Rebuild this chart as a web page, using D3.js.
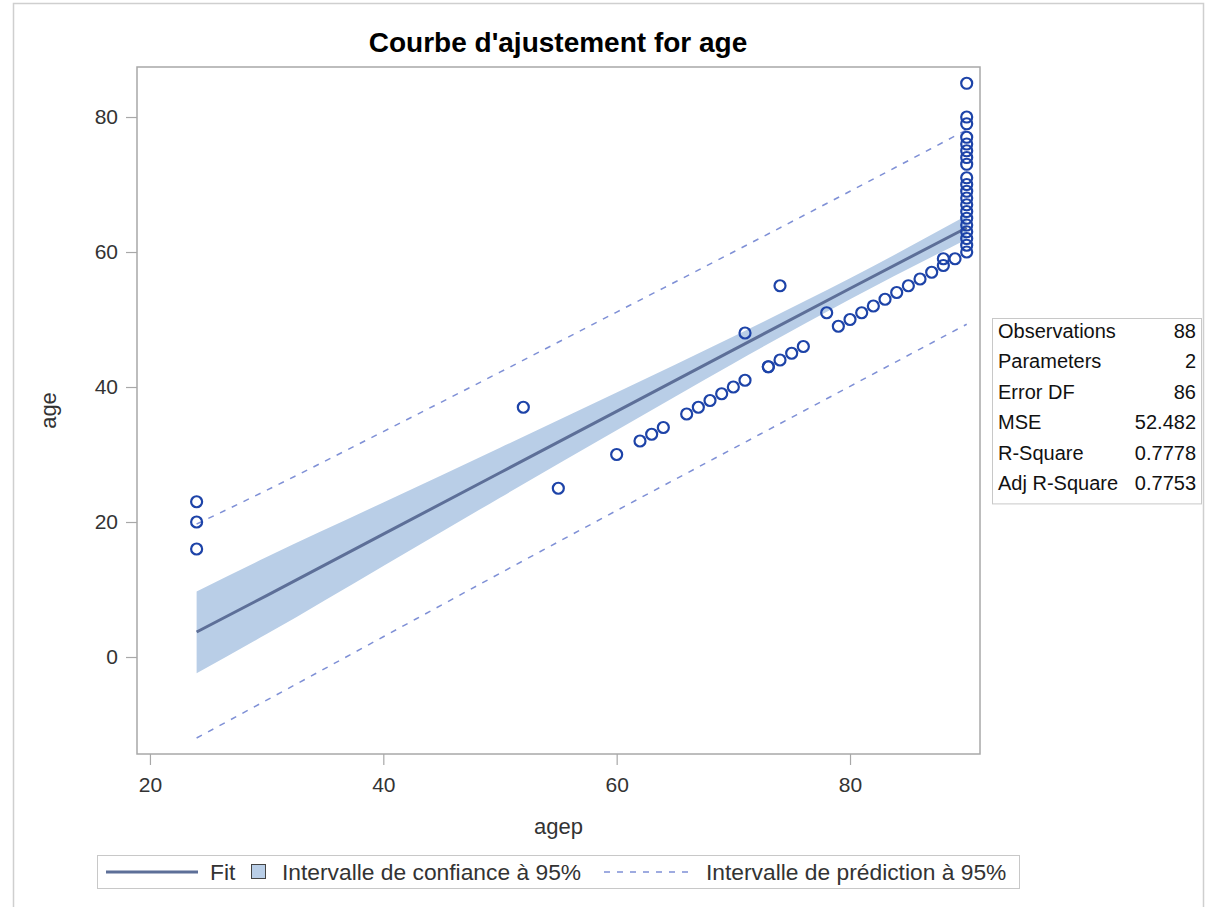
<!DOCTYPE html>
<html>
<head>
<meta charset="utf-8">
<script src="https://cdn.jsdelivr.net/npm/d3@7/dist/d3.min.js"></script>
<style>
  body { margin: 0; background: #fff; }
  svg { display: block; font-family: "Liberation Sans", Arial, sans-serif; }
</style>
</head>
<body>
<svg id="chart" width="1224" height="907"></svg>
<script>
// ---- data ----
const agepValues = [24,24,24,52,55,60,62,63,64,66,67,68,69,70,71,71,73,73,74,74,75,76,78,79,80,81,82,83,84,85,86,87,88,88,89,
                    90,90,90,90,90,90,90,90,90,90,90,90,90,90,90,90,90,90,90,90];
const ageValues  = [16,20,23,37,25,30,32,33,34,36,37,38,39,40,41,48,43,43,44,55,45,46,51,49,50,51,52,53,54,55,56,57,58,59,59,
                    85,80,79,77,76,75,74,73,71,70,69,68,67,66,65,64,63,62,61,60];

const bandX    = [24, 30, 40, 50, 60, 70, 80, 90];
const fitY     = [3.7, 9.1, 18.2, 27.3, 36.4, 45.5, 54.6, 63.6];
const clmLower = [-2.4, 3.4, 13.5, 23.6, 33.6, 43.5, 53.0, 61.9];
const clmUpper = [9.7, 14.8, 22.9, 31.0, 39.2, 47.5, 56.1, 65.4];
const pLower   = [-12.0, -6.4, 3.0, 12.4, 21.7, 30.9, 40.1, 49.3];
const pUpper   = [19.7, 24.7, 33.4, 42.2, 51.1, 60.0, 69.0, 78.1];

const xTicks = [20, 40, 60, 80];
const yTicks = [0, 20, 40, 60, 80];

const statLabels = ["Observations", "Parameters", "Error DF", "MSE", "R-Square", "Adj R-Square"];
const statValues = ["88", "2", "86", "52.482", "0.7778", "0.7753"];

const legendLabels = ["Fit", "Intervalle de confiance à 95%", "Intervalle de prédiction à 95%"];

const titleText = "Courbe d'ajustement for age";
const xLabel = "agep";
const yLabel = "age";

// ---- drawing ----
const svg = d3.select("#chart");
const plot = { left: 137, right: 980, top: 67, bottom: 754 };

const x = d3.scaleLinear().domain([18.89, 91.14]).range([plot.left, plot.right]);
const y = d3.scaleLinear().domain([-14.37, 87.41]).range([plot.bottom, plot.top]);

const colFit = "#5d6f98", colBand = "#b9cee7", colPred = "#7f90d6", colMarker = "#1d43a8";
const colFrame = "#a8a8a8", colText = "#333333";

// outer border
svg.append("path")
  .attr("d", `M13.5,920 V3.5 H1203.5 V920`)
  .attr("fill", "none").attr("stroke", "#cfcfcf").attr("stroke-width", 1.5);

// title
svg.append("text").attr("x", 558).attr("y", 52).attr("text-anchor", "middle")
  .attr("font-size", 28).attr("font-weight", "bold").attr("fill", "#000").text(titleText);

const bandData = bandX.map((v, i) => ({ x: v, fit: fitY[i], lo: clmLower[i], hi: clmUpper[i], plo: pLower[i], phi: pUpper[i] }));

const g = svg.append("g");
// CI band
g.append("path").datum(bandData)
  .attr("d", d3.area().x(d => x(d.x)).y0(d => y(d.lo)).y1(d => y(d.hi)).curve(d3.curveMonotoneX))
  .attr("fill", colBand);
// fit line
g.append("path").datum(bandData)
  .attr("d", d3.line().x(d => x(d.x)).y(d => y(d.fit)))
  .attr("fill", "none").attr("stroke", colFit).attr("stroke-width", 3);
// prediction limits
["plo", "phi"].forEach(k => {
  g.append("path").datum(bandData)
    .attr("d", d3.line().x(d => x(d.x)).y(d => y(d[k])).curve(d3.curveMonotoneX))
    .attr("fill", "none").attr("stroke", colPred).attr("stroke-width", 1.5)
    .attr("stroke-dasharray", "6,7");
});
// points
g.selectAll("circle.pt").data(agepValues.map((v, i) => [v, ageValues[i]])).enter()
  .append("circle").attr("class", "pt")
  .attr("cx", d => x(d[0])).attr("cy", d => y(d[1])).attr("r", 5.5)
  .attr("fill", "none").attr("stroke", colMarker).attr("stroke-width", 2.2);

// frame
svg.append("rect").attr("x", plot.left).attr("y", plot.top)
  .attr("width", plot.right - plot.left).attr("height", plot.bottom - plot.top)
  .attr("fill", "none").attr("stroke", colFrame).attr("stroke-width", 1.5);

// axes
const xAxis = svg.append("g").attr("transform", `translate(0,${plot.bottom})`)
  .call(d3.axisBottom(x).tickValues(xTicks).tickSize(11).tickPadding(12));
const yAxis = svg.append("g").attr("transform", `translate(${plot.left},0)`)
  .call(d3.axisLeft(y).tickValues(yTicks).tickSize(11).tickPadding(8));
[xAxis, yAxis].forEach(a => {
  a.select(".domain").remove();
  a.selectAll(".tick line").attr("stroke", colFrame).attr("stroke-width", 1.2);
  a.selectAll(".tick text").attr("font-size", 21).attr("fill", colText)
    .attr("font-family", "Liberation Sans, Arial, sans-serif");
});

// axis labels
svg.append("text").attr("x", (plot.left + plot.right) / 2).attr("y", 834).attr("text-anchor", "middle")
  .attr("font-size", 22).attr("fill", colText).text(xLabel);
svg.append("text").attr("transform", `translate(56,${(plot.top + plot.bottom) / 2}) rotate(-90)`)
  .attr("text-anchor", "middle").attr("font-size", 22).attr("fill", colText).text(yLabel);

// stats table
const tb = { x: 992, y: 318, w: 209, rowH: 30.4 };
svg.append("rect").attr("x", tb.x + 0.5).attr("y", tb.y + 0.5).attr("width", tb.w).attr("height", tb.rowH * 6 + 3)
  .attr("fill", "#fff").attr("stroke", "#c8c8c8").attr("stroke-width", 1);
statLabels.forEach((s, i) => {
  const by = tb.y + 20 + i * tb.rowH;
  svg.append("text").attr("x", tb.x + 6).attr("y", by).attr("font-size", 20).attr("fill", "#111").text(s);
  svg.append("text").attr("x", tb.x + tb.w - 5).attr("y", by).attr("text-anchor", "end")
    .attr("font-size", 20).attr("fill", "#111").text(statValues[i]);
});

// legend
const lg = svg.append("g");
lg.append("rect").attr("x", 97.5).attr("y", 855.5).attr("width", 922).attr("height", 33)
  .attr("fill", "#fff").attr("stroke", "#c8c8c8");
const ly = 872;
lg.append("line").attr("x1", 106).attr("x2", 198).attr("y1", ly).attr("y2", ly)
  .attr("stroke", colFit).attr("stroke-width", 3);
lg.append("text").attr("x", 210).attr("y", ly + 8).attr("font-size", 22.8).attr("fill", colText).text(legendLabels[0]);
lg.append("rect").attr("x", 251.5).attr("y", ly - 7.5).attr("width", 14).attr("height", 14)
  .attr("fill", colBand).attr("stroke", "#444").attr("stroke-width", 1);
lg.append("text").attr("x", 282).attr("y", ly + 8).attr("font-size", 22.8).attr("fill", colText).text(legendLabels[1]);
lg.append("line").attr("x1", 604).attr("x2", 690).attr("y1", ly).attr("y2", ly)
  .attr("stroke", colPred).attr("stroke-width", 1.5).attr("stroke-dasharray", "6,7");
lg.append("text").attr("x", 706).attr("y", ly + 8).attr("font-size", 22.8).attr("fill", colText).text(legendLabels[2]);
</script>
</body>
</html>
